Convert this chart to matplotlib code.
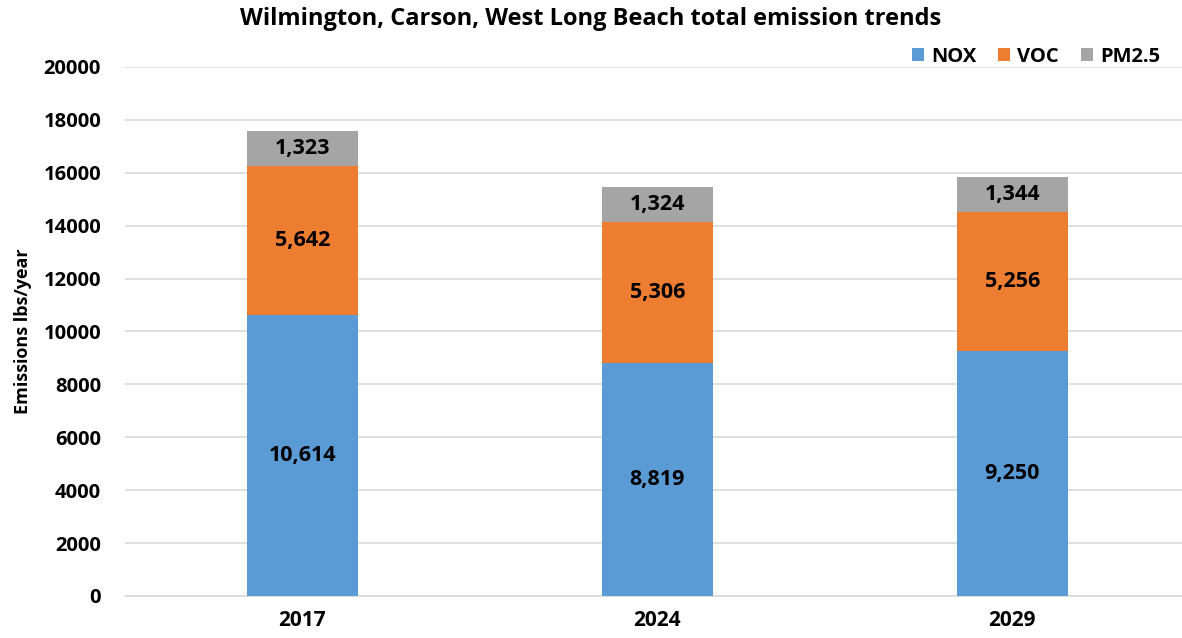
import matplotlib
matplotlib.use("Agg")
import matplotlib.pyplot as plt
import numpy as np

plt.rcParams['font.family'] = ['Open Sans', 'DejaVu Sans']
plt.rcParams['font.weight'] = 'bold'

years = ['2017', '2024', '2029']
nox = [10614, 8819, 9250]
voc = [5642, 5306, 5256]
pm25 = [1323, 1324, 1344]

series = [('NOX', nox, '#5B9BD5'), ('VOC', voc, '#ED7D31'), ('PM2.5', pm25, '#A5A5A5')]

fig = plt.figure(figsize=(11.82, 6.38), dpi=100)
ax = fig.add_axes([0.1055, 0.066, 0.901, 0.829])

x = np.arange(len(years))
bottom = np.zeros(len(years))
for name, vals, col in series:
    vals = np.array(vals)
    ax.bar(x, vals, 0.312, bottom=bottom, color=col, label=name, zorder=3)
    for xi, b, v in zip(x, bottom, vals):
        ax.text(xi, b + v / 2, f'{v:,}', ha='center', va='center',
                fontsize=15.5, fontweight='bold', color='black', zorder=4)
    bottom += vals

ax.set_xlim(-0.5, 2.5)
ax.set_ylim(0, 20000)
ax.set_yticks(range(0, 20001, 2000))
ax.set_xticks(x)
ax.set_xticklabels(years)
ax.tick_params(axis='y', length=0, labelsize=14.5, pad=17)
ax.tick_params(axis='x', length=0, labelsize=15, pad=10)
for lab in ax.get_xticklabels() + ax.get_yticklabels():
    lab.set_fontweight('bold')
ax.grid(axis='y', color='#D9D9D9', linewidth=1.2, zorder=0)
for s in ['top', 'right', 'left']:
    ax.spines[s].set_visible(False)
ax.spines['bottom'].set_color('#D9D9D9')
ax.spines['bottom'].set_linewidth(1.2)

ax.set_ylabel('Emissions lbs/year', fontsize=13, fontweight='bold', labelpad=8)
fig.text(0.5, 0.97, 'Wilmington, Carson, West Long Beach total emission trends',
         ha='center', va='center', fontsize=17, fontweight='bold')

leg = ax.legend(loc='lower right', bbox_to_anchor=(0.98, 0.985), ncol=3, frameon=False,
                fontsize=14.5, handlelength=0.6, handleheight=0.6, handletextpad=0.35,
                columnspacing=1.1, borderaxespad=0)
for t in leg.get_texts():
    t.set_fontweight('bold')

fig.savefig('out.png', dpi=100)
